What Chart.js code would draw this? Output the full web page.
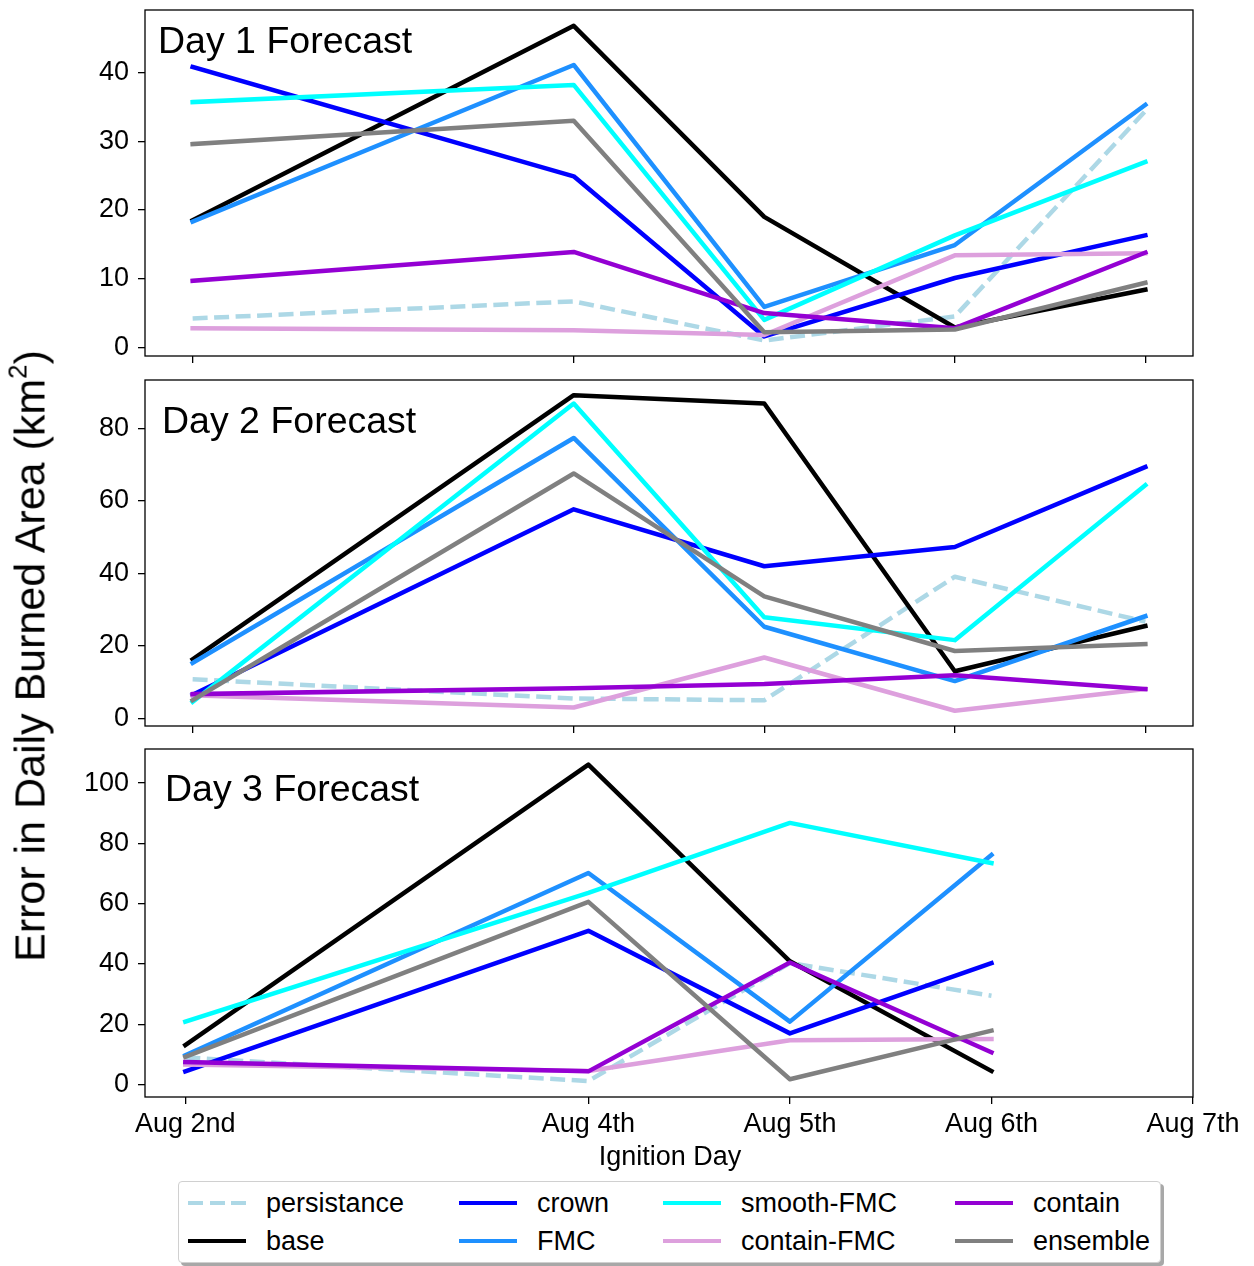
<!DOCTYPE html>
<html>
<head>
<meta charset="utf-8">
<script src="https://cdn.jsdelivr.net/npm/chart.js@4"></script>
<style>
  body { margin: 0; background: #fff; width: 1254px; height: 1266px; position: relative; overflow: hidden;
         font-family: "Liberation Sans", Arial, sans-serif; color: #000; }
  canvas { position: absolute; left: 0; }
  #ylabel { position: absolute; left: 30px; top: 656px; transform: translate(-50%, -50%) rotate(-90deg);
            font-size: 43px; white-space: nowrap; }
  #ylabel sup { font-size: 0.6em; line-height: 0; vertical-align: 0.7em; }
  #xlabel { position: absolute; left: 670px; top: 1156px; transform: translate(-50%, -50%); font-size: 27px; white-space: nowrap; }
  #legend { position: absolute; left: 178px; top: 1181px; width: 983px; height: 82px; box-sizing: border-box;
            border: 1.5px solid #d0d0d0; border-radius: 4px; box-shadow: 3px 3px 0 #a8a8a8; background: #fff;
            display: grid; grid-template-columns: 271px 204px 292px auto; grid-template-rows: 38px 38px;
            grid-auto-flow: column; padding: 2px 0 0 9px; }
  .item { display: flex; align-items: center; font-size: 27px; white-space: nowrap; }
  .sw { display: inline-block; width: 58px; height: 4px; margin-right: 20px; }
</style>
</head>
<body>
<canvas id="c1" width="1254" height="372" style="top:0px"></canvas>
<canvas id="c2" width="1254" height="372" style="top:372px"></canvas>
<canvas id="c3" width="1254" height="426" style="top:744px"></canvas>
<div id="ylabel">Error in Daily Burned Area (km<sup>2</sup>)</div>
<div id="xlabel">Ignition Day</div>
<div id="legend"></div>
<script>
// jours d'allumage (décalage en jours depuis le 2 août) et étiquettes
const dayOffsets = [0, 2, 3, 4, 5];
const tickLabels = ['Aug 2nd', 'Aug 4th', 'Aug 5th', 'Aug 6th', 'Aug 7th'];

const seriesNames = ['persistance', 'base', 'crown', 'FMC', 'smooth-FMC', 'contain-FMC', 'contain', 'ensemble'];
const seriesColors = ['#add8e6', '#000000', '#0000ff', '#1e90ff', '#00ffff', '#dda0dd', '#9400d3', '#808080'];

// Day 1 Forecast
const day1Persistance = [4.2, 6.7, 1.0, 4.5, 34.4];
const day1Base        = [18.5, 46.8, 19.0, 2.9, 8.4];
const day1Crown       = [40.8, 24.9, 1.6, 10.1, 16.3];
const day1FMC         = [18.3, 41.1, 5.9, 14.9, 35.3];
const day1SmoothFMC   = [35.7, 38.2, 4.0, 16.3, 27.0];
const day1ContainFMC  = [2.8, 2.5, 1.8, 13.4, 13.7];
const day1Contain     = [9.7, 13.9, 5.0, 2.8, 13.8];
const day1Ensemble    = [29.6, 33.0, 2.2, 2.6, 9.4];

// Day 2 Forecast
const day2Persistance = [10.8, 5.5, 5.0, 39.1, 26.7];
const day2Base        = [16.3, 89.2, 86.9, 13.0, 25.5];
const day2Crown       = [6.5, 57.7, 42.0, 47.3, 69.4];
const day2FMC         = [15.3, 77.4, 25.3, 10.3, 28.2];
const day2SmoothFMC   = [4.6, 86.9, 27.9, 21.6, 64.4];
const day2ContainFMC  = [6.4, 3.0, 16.8, 2.1, 8.1];
const day2Contain     = [6.7, 8.3, 9.5, 11.9, 8.1];
const day2Ensemble    = [5.0, 67.6, 33.7, 18.6, 20.5];

// Day 3 Forecast (pas de valeur pour le 7 août)
const day3Persistance = [9.0, 1.2, 40.3, 29.5];
const day3Base        = [13.1, 106.1, 40.9, 4.5];
const day3Crown       = [4.4, 51.0, 17.0, 40.3];
const day3FMC         = [9.7, 70.2, 20.9, 76.2];
const day3SmoothFMC   = [20.9, 63.6, 86.8, 73.5];
const day3ContainFMC  = [6.7, 4.5, 14.7, 15.1];
const day3Contain     = [7.5, 4.4, 40.5, 10.7];
const day3Ensemble    = [9.2, 60.6, 1.8, 17.9];

const yTicks1 = [0, 10, 20, 30, 40];
const yTicks2 = [0, 20, 40, 60, 80];
const yTicks3 = [0, 20, 40, 60, 80, 100];

Chart.defaults.color = '#000';
Chart.defaults.font.family = '"Liberation Sans", Arial, sans-serif';

// cadre noir autour de la zone du graphique + titre du panneau
const panelPlugin = {
  id: 'panel',
  afterDraw(chart, args, opts) {
    const { ctx, chartArea: a } = chart;
    ctx.save();
    ctx.strokeStyle = '#000';
    ctx.lineWidth = 1.3;
    ctx.strokeRect(a.left, a.top, a.right - a.left, a.bottom - a.top);
    ctx.fillStyle = '#000';
    ctx.font = '37.5px "Liberation Sans", Arial, sans-serif';
    ctx.textBaseline = 'alphabetic';
    ctx.fillText(opts.text, a.left + opts.dx, a.top + opts.dy);
    ctx.restore();
  }
};

function makePanel(id, rows, cfg) {
  const datasets = rows.map((vals, i) => ({
    label: seriesNames[i],
    data: vals.map((v, j) => ({ x: dayOffsets[j], y: v })),
    borderColor: seriesColors[i],
    borderWidth: 4.5,
    borderDash: i === 0 ? [15, 6.5] : [],
    borderCapStyle: i === 0 ? 'butt' : 'square',
    borderJoinStyle: 'round',
    pointRadius: 0,
    fill: false,
    tension: 0,
    order: rows.length - i
  }));

  new Chart(document.getElementById(id), {
    type: 'line',
    data: { datasets },
    plugins: [panelPlugin],
    options: {
      responsive: false,
      animation: false,
      layout: { padding: { left: 0, right: 61, top: cfg.padTop, bottom: 0 } },
      plugins: {
        legend: { display: false },
        tooltip: { enabled: false },
        panel: { text: cfg.title, dx: cfg.dx, dy: cfg.dy }
      },
      scales: {
        x: {
          type: 'linear',
          min: cfg.xMin,
          max: cfg.xMax,
          afterBuildTicks: s => { s.ticks = dayOffsets.map(v => ({ value: v })); },
          afterFit: s => { s.height = cfg.xHeight; s.paddingLeft = 0; s.paddingRight = 0; },
          border: { display: false },
          grid: { drawOnChartArea: false, drawTicks: true, tickLength: 7, color: '#000', lineWidth: 1.3 },
          ticks: {
            autoSkip: false,
            maxRotation: 0,
            padding: 4,
            font: { size: 27 },
            callback: v => cfg.showLabels ? tickLabels[dayOffsets.indexOf(v)] : ''
          }
        },
        y: {
          min: cfg.yMin,
          max: cfg.yMax,
          afterBuildTicks: s => { s.ticks = cfg.yTicks.map(v => ({ value: v })); },
          afterFit: s => { s.width = 145; s.paddingTop = 0; s.paddingBottom = 0; },
          border: { display: false },
          grid: { drawOnChartArea: false, drawTicks: true, tickLength: 7, color: '#000', lineWidth: 1.3 },
          ticks: { padding: 9, font: { size: 27 } }
        }
      }
    }
  });
}

makePanel('c1',
  [day1Persistance, day1Base, day1Crown, day1FMC, day1SmoothFMC, day1ContainFMC, day1Contain, day1Ensemble],
  { title: 'Day 1 Forecast', dx: 13, dy: 43, padTop: 10, xHeight: 16, xMin: -0.25, xMax: 5.25,
    yMin: -1.25, yMax: 49.1, yTicks: yTicks1, showLabels: false });

makePanel('c2',
  [day2Persistance, day2Base, day2Crown, day2FMC, day2SmoothFMC, day2ContainFMC, day2Contain, day2Ensemble],
  { title: 'Day 2 Forecast', dx: 17, dy: 53, padTop: 8, xHeight: 18, xMin: -0.25, xMax: 5.25,
    yMin: -2.1, yMax: 93.4, yTicks: yTicks2, showLabels: false });

makePanel('c3',
  [day3Persistance, day3Base, day3Crown, day3FMC, day3SmoothFMC, day3ContainFMC, day3Contain, day3Ensemble],
  { title: 'Day 3 Forecast', dx: 20, dy: 52, padTop: 5, xHeight: 73, xMin: -0.2, xMax: 5,
    yMin: -4.1, yMax: 111.3, yTicks: yTicks3, showLabels: true });

// légende commune en bas
const legendEl = document.getElementById('legend');
seriesNames.forEach((name, i) => {
  const item = document.createElement('div');
  item.className = 'item';
  const sw = document.createElement('span');
  sw.className = 'sw';
  sw.style.background = i === 0
    ? `repeating-linear-gradient(to right, ${seriesColors[i]} 0 15px, transparent 15px 21.5px)`
    : seriesColors[i];
  const txt = document.createElement('span');
  txt.textContent = name;
  item.appendChild(sw);
  item.appendChild(txt);
  legendEl.appendChild(item);
});
</script>
</body>
</html>
